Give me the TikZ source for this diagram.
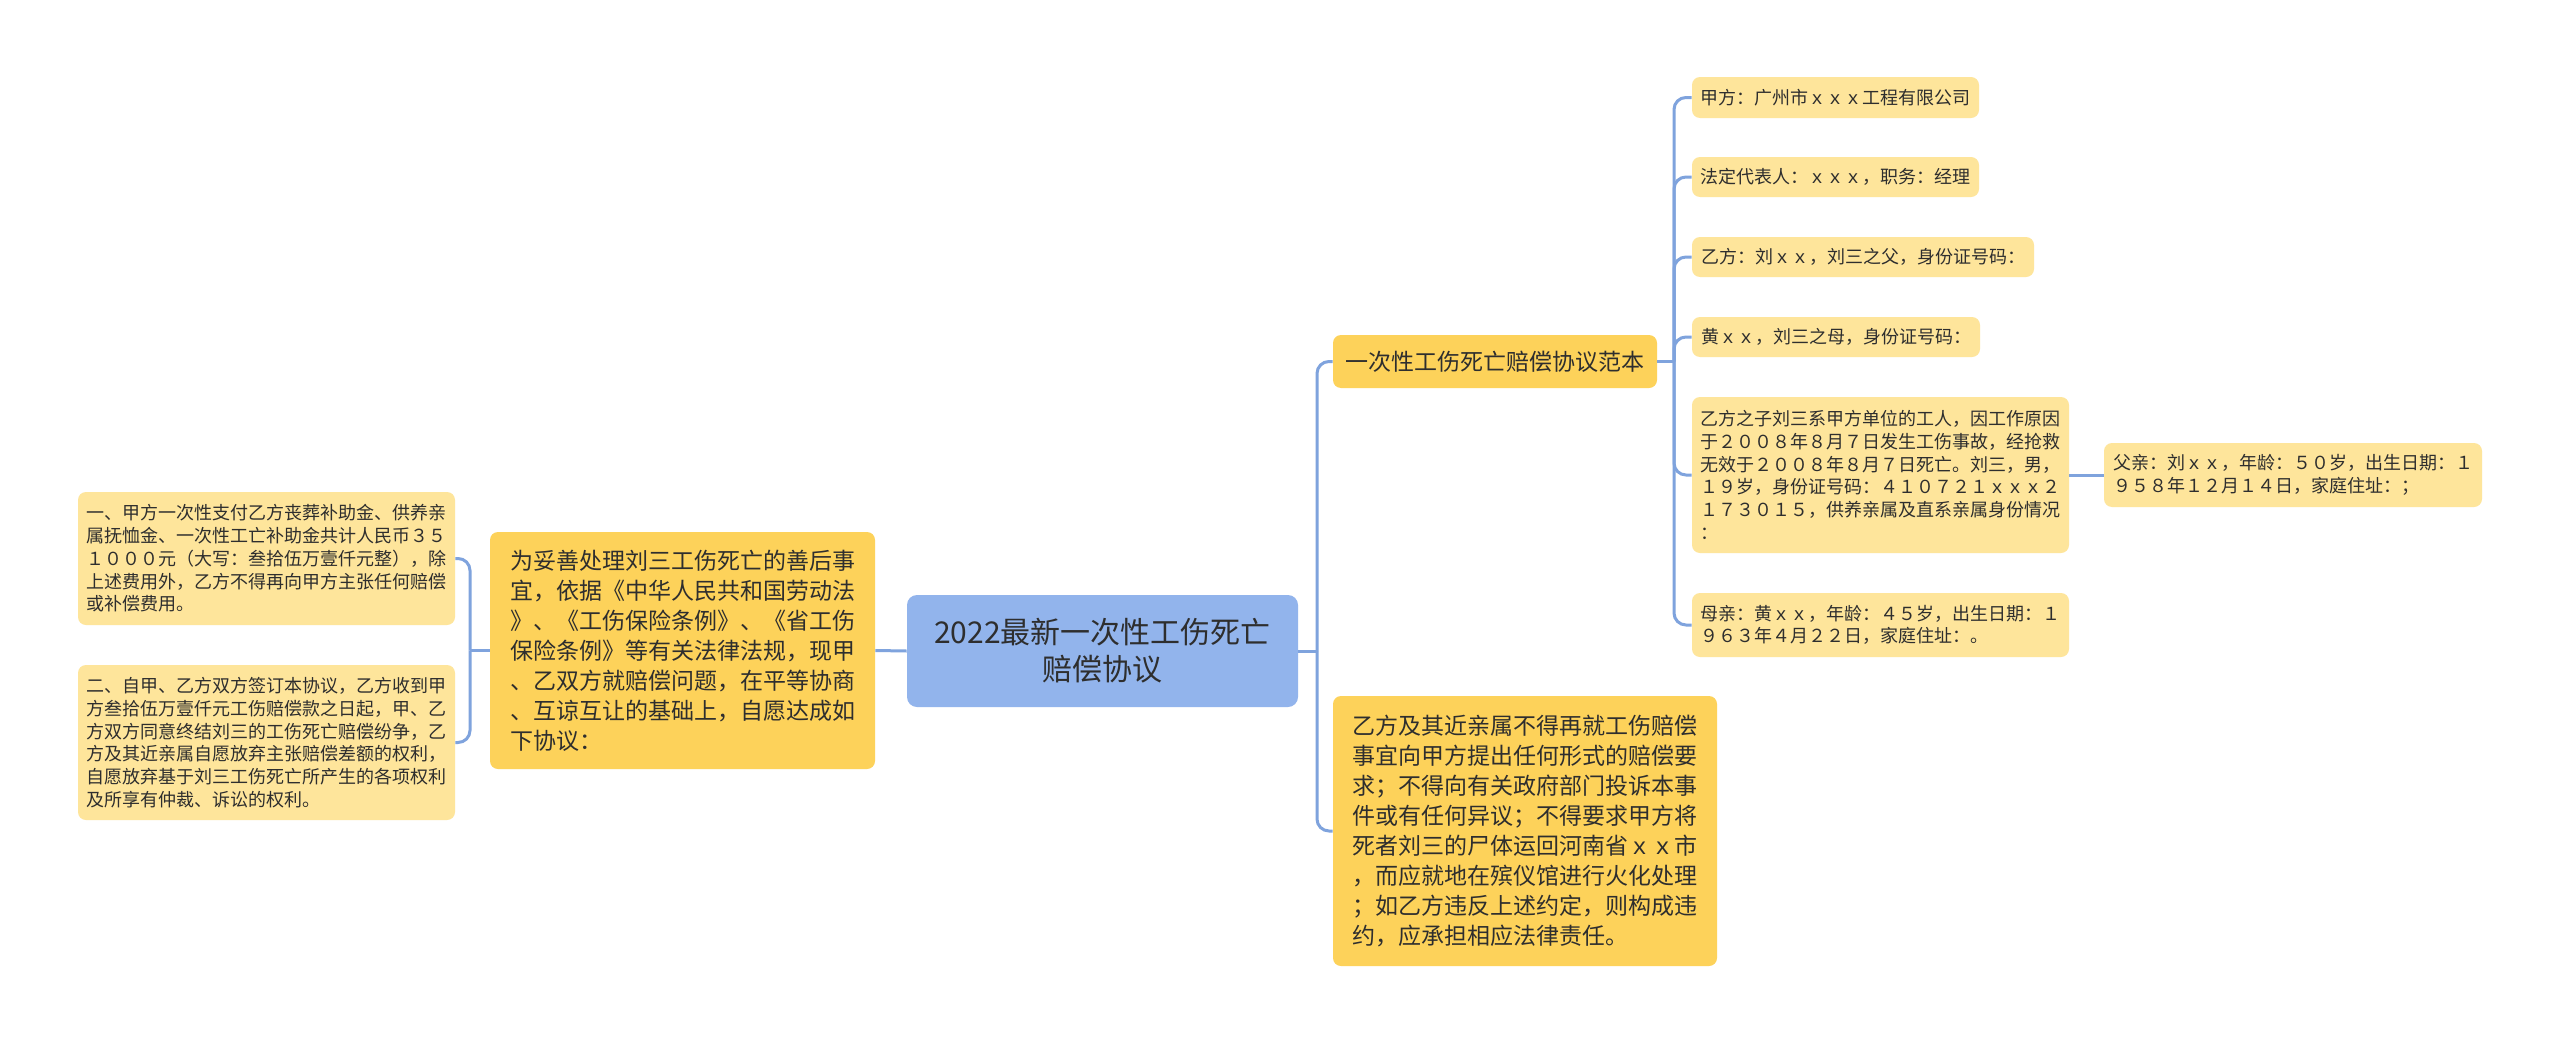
\documentclass[tikz,border=0pt]{standalone}
\usepackage{fontspec}
\newfontfamily\cjk{Noto Sans CJK SC}
\definecolor{lineblue}{HTML}{7FA3DD}
\definecolor{rootblue}{HTML}{92B4EC}
\definecolor{midyellow}{HTML}{FDD25A}
\definecolor{leafyellow}{HTML}{FEE59B}
\definecolor{txt}{HTML}{2E2E2E}
\begin{document}
\begin{tikzpicture}[x=0.5pt,y=-0.5pt,
  conn/.style={draw=lineblue, line width=1.5pt, rounded corners=6pt},
  box/.style={rounded corners=4pt, inner sep=2pt, text=txt, align=left},
  rootbox/.style={box, fill=rootblue, rounded corners=5pt, align=center, font={\cjk\fontsize{15}{18.5}\selectfont}},
  midbox/.style={box, fill=midyellow, font={\cjk\fontsize{11.5}{15}\selectfont}},
  leafbox/.style={box, fill=leafyellow, font={\cjk\fontsize{9}{11.35}\selectfont}}]
\fill[white] (0,0) rectangle (2560,1044);
\useasboundingbox (0,0) rectangle (2560,1044);

% root
\node[rootbox, minimum width=195.5pt, minimum height=56pt] (root) at (1102.5,651) {2022最新一次性工伤死亡\\赔偿协议};

% left side
\node[midbox, minimum width=192.5pt, minimum height=118.5pt] (midL) at (682.5,650.5) {为妥善处理刘三工伤死亡的善后事\\宜，依据《中华人民共和国劳动法\\》、《工伤保险条例》、《省工伤\\保险条例》等有关法律法规，现甲\\、乙双方就赔偿问题，在平等协商\\、互谅互让的基础上，自愿达成如\\下协议：};

\node[leafbox, minimum width=188.5pt, minimum height=66.5pt] (L1) at (266.5,558.5) {一、甲方一次性支付乙方丧葬补助金、供养亲\\属抚恤金、一次性工亡补助金共计人民币３５\\１０００元（大写：叁拾伍万壹仟元整），除\\上述费用外，乙方不得再向甲方主张任何赔偿\\或补偿费用。};

\node[leafbox, minimum width=188.5pt, minimum height=77.5pt] (L2) at (266.5,742.5) {二、自甲、乙方双方签订本协议，乙方收到甲\\方叁拾伍万壹仟元工伤赔偿款之日起，甲、乙\\方双方同意终结刘三的工伤死亡赔偿纷争，乙\\方及其近亲属自愿放弃主张赔偿差额的权利，\\自愿放弃基于刘三工伤死亡所产生的各项权利\\及所享有仲裁、诉讼的权利。};

% right side
\node[midbox, minimum width=162pt, minimum height=26.5pt] (R1) at (1495,361.5) {一次性工伤死亡赔偿协议范本};

\node[midbox, minimum width=192pt, minimum height=135pt] (R2) at (1525,831) {乙方及其近亲属不得再就工伤赔偿\\事宜向甲方提出任何形式的赔偿要\\求；不得向有关政府部门投诉本事\\件或有任何异议；不得要求甲方将\\死者刘三的尸体运回河南省ｘｘ市\\，而应就地在殡仪馆进行火化处理\\；如乙方违反上述约定，则构成违\\约，应承担相应法律责任。};

\node[leafbox, minimum width=143.5pt, minimum height=20.5pt] (a1) at (1835.5,97.5) {甲方：广州市ｘｘｘ工程有限公司};
\node[leafbox, minimum width=143.5pt, minimum height=20pt] (a2) at (1835.5,177) {法定代表人：ｘｘｘ，职务：经理};
\node[leafbox, minimum width=171pt, minimum height=20pt] (a3) at (1863,257) {乙方：刘ｘｘ，刘三之父，身份证号码：};
\node[leafbox, minimum width=144pt, minimum height=20pt] (a4) at (1836,337) {黄ｘｘ，刘三之母，身份证号码：};
\node[leafbox, minimum width=188.5pt, minimum height=78pt] (a5) at (1880.5,475) {乙方之子刘三系甲方单位的工人，因工作原因\\于２００８年８月７日发生工伤事故，经抢救\\无效于２００８年８月７日死亡。刘三，男，\\１９岁，身份证号码：４１０７２１ｘｘｘ２\\１７３０１５，供养亲属及直系亲属身份情况\\：};
\node[leafbox, minimum width=188.5pt, minimum height=32pt] (a6) at (1880.5,625) {母亲：黄ｘｘ，年龄：４５岁，出生日期：１\\９６３年４月２２日，家庭住址：。};
\node[leafbox, minimum width=189pt, minimum height=32pt] (f) at (2293,475) {父亲：刘ｘｘ，年龄：５０岁，出生日期：１\\９５８年１２月１４日，家庭住址：；};

% connectors
\draw[conn] (root.west) -- (midL.east);
\draw[conn] (midL.west) -- (470,650.5) coordinate (lj);
\draw[conn] (lj) |- (L1.east);
\draw[conn] (lj) |- (L2.east);

\draw[conn] (root.east) -- (1317,651) coordinate (rj);
\draw[conn] (rj) |- (R1.west);
\draw[conn] (rj) |- (R2.west);

\draw[conn] (R1.east) -- (1674,361.5) coordinate (r1j);
\foreach \n in {a1,a2,a3,a4,a5,a6} { \draw[conn] (r1j) |- (\n.west); }

\draw[conn] (a5.east) -- (f.west);
\end{tikzpicture}
\end{document}
